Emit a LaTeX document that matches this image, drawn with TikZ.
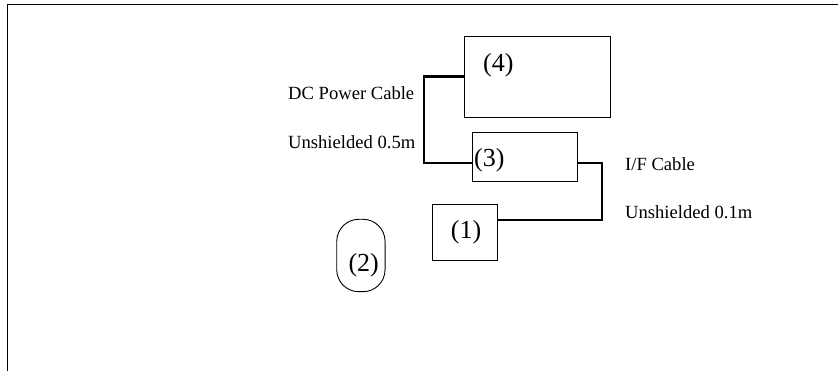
\documentclass[tikz,border=0pt]{standalone}
\usepackage{fontspec}
\setmainfont{Liberation Serif}
\begin{document}
\begin{tikzpicture}[x=1pt,y=-1pt,
  box/.style={draw,line width=0.9pt,inner sep=0pt},
  wire/.style={line width=2.2pt,line join=miter},
  lbl/.style={anchor=base west,inner sep=0pt,font=\fontsize{18.6}{22}\selectfont},
  num/.style={anchor=base west,inner sep=0pt,font=\fontsize{26}{30}\selectfont}]
\useasboundingbox (0,0) rectangle (838,371);
\draw[line width=1.3pt] (838,4.5) -- (7.5,4.5) -- (7.5,371);
% boxes
\node[box,minimum width=146pt,minimum height=81pt] (b4) at (537,76.5) {};
\node[box,minimum width=104.3pt,minimum height=49pt] (b3) at (524.9,157.2) {};
\node[box,minimum width=65pt,minimum height=56.4pt] (b1) at (465.2,232.5) {};
\node[box,rounded corners=22pt,minimum width=48.3pt,minimum height=72.4pt] (b2) at (360.9,255.5) {};
% numbers
\node[num] (t4) at (483,72) {(4)};
\node[num] (t3) at (474,167) {(3)};
\node[num] (t1) at (450.7,238.5) {(1)};
\node[num] (t2) at (348.3,272) {(2)};
% wires
\coordinate (c1) at (424,163.2);
\coordinate (c2) at (602,163.2);
\draw[wire] (b4.west) -| (c1) -- ([yshift=-6pt]b3.west);
\draw[wire] ([yshift=-6pt]b3.east) -- (c2) |- ([yshift=12.5pt]b1.east);
% labels
\node[lbl] (l1) at (288,100) {DC Power Cable};
\node[lbl] (l2) at (288,148.3) {Unshielded 0.5m};
\node[lbl] (l3) at (625,171) {I/F Cable};
\node[lbl] (l4) at (625,219) {Unshielded 0.1m};
\end{tikzpicture}
\end{document}
